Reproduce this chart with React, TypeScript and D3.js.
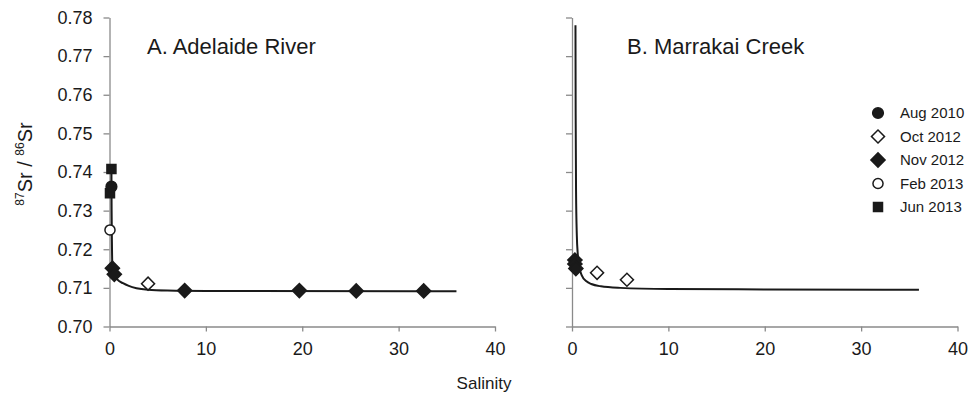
import * as d3 from 'd3';
import { useEffect, useRef } from 'react';

// axis ticks
const xTicks = [0, 10, 20, 30, 40];
const yTicks = [0.70, 0.71, 0.72, 0.73, 0.74, 0.75, 0.76, 0.77, 0.78];

// legend
const seriesNames = ['Aug 2010', 'Oct 2012', 'Nov 2012', 'Feb 2013', 'Jun 2013'];

// A. Adelaide River  [salinity, 87Sr/86Sr]
const adelaideAug2010 = [[0.2, 0.7362]];
const adelaideOct2012 = [[4.0, 0.7111]];
const adelaideNov2012 = [[0.3, 0.7151], [0.5, 0.7135], [7.8, 0.7093], [19.7, 0.7093], [25.6, 0.7092], [32.6, 0.7092]];
const adelaideFeb2013 = [[0.05, 0.725]];
const adelaideJun2013 = [[0.2, 0.7408], [0.05, 0.7345]];
const adelaideCurve = [
    [0.2, 0.741], [0.22, 0.730], [0.25, 0.722], [0.3, 0.7155], [0.5, 0.7133], [0.8, 0.7122],
    [1.4, 0.7112], [2, 0.7105], [2.8, 0.7099], [4, 0.7095], [6, 0.7093], [10, 0.7092], [36, 0.7091],
];

// B. Marrakai Creek
const marrakaiNov2012 = [[0.3, 0.7172], [0.3, 0.7162], [0.4, 0.715]];
const marrakaiOct2012 = [[2.6, 0.7139], [5.7, 0.7121]];
const marrakaiCurve = [
    [0.36, 0.778], [0.38, 0.755], [0.42, 0.735], [0.5, 0.7236], [0.6, 0.7187], [0.8, 0.7149],
    [1.0, 0.7133], [1.5, 0.7117], [2, 0.711], [3, 0.7104], [5, 0.71], [10, 0.7097], [20, 0.7096], [36, 0.7095],
];

const FONT = 'Liberation Sans, Arial, sans-serif';
const AXIS = '#8a8a8a';
const INK = '#1a1a1a';

// marker style per series
const markerFor = (name: string) => {
    switch (name) {
        case 'Aug 2010': return { type: d3.symbolCircle, size: 90, fill: INK, rot: 0 };
        case 'Oct 2012': return { type: d3.symbolSquare, size: 85, fill: '#fff', rot: 45 };
        case 'Nov 2012': return { type: d3.symbolSquare, size: 100, fill: INK, rot: 45 };
        case 'Feb 2013': return { type: d3.symbolCircle, size: 80, fill: '#fff', rot: 0 };
        default: return { type: d3.symbolSquare, size: 81, fill: INK, rot: 0 };
    }
};

const App = () => {
    const ref = useRef<SVGSVGElement | null>(null);

    useEffect(() => {
        const svg = d3.select(ref.current);
        svg.selectAll('*').remove();

        const y = d3.scaleLinear().domain([0.70, 0.78]).range([326.5, 17.5]);
        const xLeft = d3.scaleLinear().domain([0, 40]).range([109.5, 495]);
        const xRight = d3.scaleLinear().domain([0, 40]).range([572, 957.5]);

        const drawPanel = (x, showYLabels, title, titleX, curve, points) => {
            const g = svg.append('g');

            const yAxisG = g.append('g')
                .attr('transform', `translate(${x(0)},0)`)
                .call(
                    d3.axisLeft(y)
                        .tickValues(yTicks)
                        .tickSize(6)
                        .tickSizeOuter(0)
                        .tickPadding(11)
                        .tickFormat(showYLabels ? d3.format('.2f') : () => '')
                );
            yAxisG.selectAll('text').style('font-size', '18px').style('font-family', FONT).style('fill', INK);
            yAxisG.selectAll('line').style('stroke', AXIS).style('stroke-width', 1.3);
            yAxisG.select('.domain').style('stroke', AXIS).style('stroke-width', 1.3);

            const xAxisG = g.append('g')
                .attr('transform', `translate(0,${y(0.70)})`)
                .call(
                    d3.axisBottom(x)
                        .tickValues(xTicks)
                        .tickSize(5)
                        .tickSizeOuter(0)
                        .tickPadding(11)
                        .tickFormat(d3.format('d'))
                );
            xAxisG.selectAll('text').style('font-size', '18px').style('font-family', FONT).style('fill', INK);
            xAxisG.selectAll('line').style('stroke', AXIS).style('stroke-width', 1.3);
            xAxisG.select('.domain').style('stroke', AXIS).style('stroke-width', 1.3);

            // mixing curve
            const line = d3.line()
                .x((d) => x(d[0]))
                .y((d) => y(d[1]))
                .curve(d3.curveMonotoneX);
            g.append('path')
                .datum(curve)
                .attr('d', line)
                .attr('fill', 'none')
                .attr('stroke', INK)
                .attr('stroke-width', 2);

            // markers
            points.forEach(({ name, data }) => {
                const m = markerFor(name);
                g.selectAll(null)
                    .data(data)
                    .enter()
                    .append('path')
                    .attr('d', d3.symbol().type(m.type).size(m.size))
                    .attr('transform', (d) => `translate(${x(d[0])},${y(d[1])}) rotate(${m.rot})`)
                    .attr('fill', m.fill)
                    .attr('stroke', INK)
                    .attr('stroke-width', 1.5);
            });

            g.append('text')
                .attr('x', titleX)
                .attr('y', 54)
                .style('font-size', '22px')
                .style('font-family', FONT)
                .style('fill', INK)
                .text(title);
        };

        drawPanel(xLeft, true, 'A. Adelaide River', 147, adelaideCurve, [
            { name: 'Feb 2013', data: adelaideFeb2013 },
            { name: 'Jun 2013', data: adelaideJun2013 },
            { name: 'Aug 2010', data: adelaideAug2010 },
            { name: 'Nov 2012', data: adelaideNov2012 },
            { name: 'Oct 2012', data: adelaideOct2012 },
        ]);

        drawPanel(xRight, false, 'B. Marrakai Creek', 627, marrakaiCurve, [
            { name: 'Nov 2012', data: marrakaiNov2012 },
            { name: 'Oct 2012', data: marrakaiOct2012 },
        ]);

        // legend
        const legend = svg.append('g').attr('transform', 'translate(878,113)');
        seriesNames.forEach((name, i) => {
            const m = markerFor(name);
            const row = legend.append('g').attr('transform', `translate(0,${i * 23.5})`);
            row.append('path')
                .attr('d', d3.symbol().type(m.type).size(m.size)())
                .attr('transform', `rotate(${m.rot})`)
                .attr('fill', m.fill)
                .attr('stroke', INK)
                .attr('stroke-width', 1.5);
            row.append('text')
                .attr('x', 22)
                .attr('dy', '0.35em')
                .style('font-size', '15px')
                .style('font-family', FONT)
                .style('fill', INK)
                .text(name);
        });

        // x label
        svg.append('text')
            .attr('x', 484)
            .attr('y', 389)
            .attr('text-anchor', 'middle')
            .style('font-size', '17px')
            .style('font-family', FONT)
            .style('fill', INK)
            .text('Salinity');

        // y label with superscript isotopes
        const yLabel = svg.append('text')
            .attr('transform', 'translate(32,164) rotate(-90)')
            .attr('text-anchor', 'middle')
            .style('font-family', FONT)
            .style('fill', INK);
        yLabel.append('tspan').style('font-size', '12px').attr('dy', -8).text('87');
        yLabel.append('tspan').style('font-size', '20px').attr('dy', 8).text('Sr / ');
        yLabel.append('tspan').style('font-size', '12px').attr('dy', -8).text('86');
        yLabel.append('tspan').style('font-size', '20px').attr('dy', 8).text('Sr');
    }, []);

    return (
        <svg
            ref={ref}
            width={969}
            height={395}
            style={{ position: 'absolute', left: 0, top: 0, background: '#fff' }}
        />
    );
};

export default App;
